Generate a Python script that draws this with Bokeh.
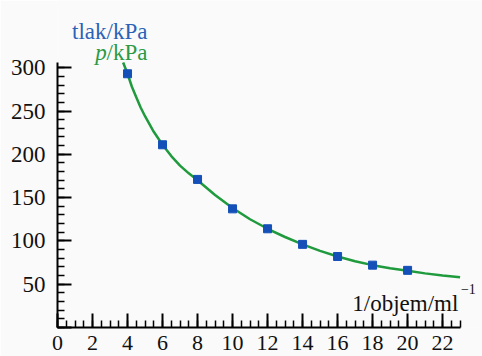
from bokeh.plotting import figure
from bokeh.models import Label, SingleIntervalTicker, Range1d
from bokeh.embed import file_html
from bokeh.resources import INLINE

# measured points (1/volume in ml^-1, pressure in kPa)
x_points = [4, 6, 8, 10, 12, 14, 16, 18, 20]
p_points = [293, 211, 171, 137, 114, 96, 82, 72, 66]

# smooth fitted curve
x_curve = [3.75, 4, 4.25, 4.5, 4.75, 5, 5.5, 6, 6.5, 7, 7.5, 8, 9, 10, 11, 12, 13, 14, 15, 16, 17, 18, 19, 20, 21, 22, 23]
p_curve = [306, 293, 278, 266, 254, 244, 226, 211, 198, 187, 178, 170, 153, 138, 125, 114, 104.5, 96, 88.5, 82, 76.5, 72, 68.5, 65.5, 62.5, 60, 58]

y_title = "tlak/kPa"
p_title_sym = "p"
p_title_unit = "/kPa"
x_title = "1/objem/ml"
x_title_sup = "\u22121"

FONT = "'Liberation Serif', 'Times New Roman', 'DejaVu Serif', serif"
BLUE = "#1450b8"
BLUE_TXT = "#2b62b8"
GREEN = "#1f9a3c"
GREEN_TXT = "#2a9a45"
BG = "#fafafa"

p = figure(width=482, height=356, output_backend="svg", toolbar_location=None,
           x_range=Range1d(0, 24.28), y_range=Range1d(0, 377.6),
           min_border_left=57, min_border_right=0, min_border_top=0, min_border_bottom=29)
p.background_fill_color = BG
p.border_fill_color = BG
p.outline_line_color = None
p.grid.visible = False

p.line(x_curve, p_curve, line_color=GREEN, line_width=2.5)
p.scatter(x_points, p_points, marker="square", size=8, fill_color=BLUE, line_color=BLUE)

xa = p.xaxis[0]
xa.ticker = SingleIntervalTicker(interval=2, num_minor_ticks=4)
xa.bounds = (0, 23)
ya = p.yaxis[0]
ya.ticker = SingleIntervalTicker(interval=50, num_minor_ticks=5)
ya.bounds = (0, 306)
ya.major_label_overrides = {0: ""}
for ax in (xa, ya):
    ax.axis_line_width = 2
    ax.axis_line_color = "black"
    ax.major_tick_in = 14
    ax.major_tick_out = 0
    ax.minor_tick_in = 7
    ax.minor_tick_out = 0
    ax.major_tick_line_width = 2
    ax.minor_tick_line_width = 1.5
    ax.major_tick_line_color = "black"
    ax.minor_tick_line_color = "black"
    ax.major_label_text_font = FONT
    ax.major_label_text_font_size = "22px"
    ax.major_label_text_color = "#111111"
xa.major_label_standoff = 8
ya.major_label_standoff = 12
ya.major_label_text_font_size = "23px"

def lab(x, y, text, color, size="23px", style="normal", align="left"):
    p.add_layout(Label(x=x, y=y, text=text, text_color=color, text_font=FONT,
                       text_font_size=size, text_font_style=style,
                       text_align=align, text_baseline="alphabetic"))

lab(5.14, 341.5, y_title, BLUE_TXT, align="right")
lab(5.14, 317.5, p_title_unit, GREEN_TXT, align="right")
lab(2.82, 317.5, p_title_sym, GREEN_TXT, style="italic", align="right")
lab(16.84, 27.7, x_title, "#111111")
lab(23.05, 45.0, x_title_sup, "#111111", size="14px")

open("out.html", "w").write(file_html(p, INLINE))
